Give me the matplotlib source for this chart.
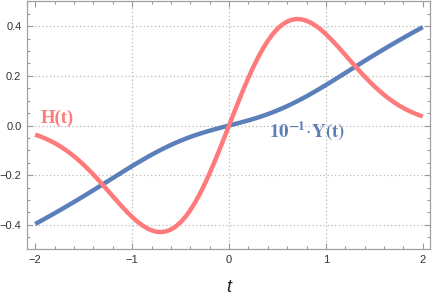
import matplotlib
matplotlib.use("Agg")
import matplotlib.pyplot as plt
from matplotlib.ticker import MultipleLocator, FixedLocator

plt.rcParams["mathtext.fontset"] = "stix"

t_pos = [0.0, 0.05, 0.1, 0.15, 0.2, 0.25, 0.3, 0.35, 0.4, 0.45, 0.5, 0.55, 0.6,
         0.65, 0.7, 0.75, 0.8, 0.85, 0.9, 0.95, 1.0, 1.05, 1.1, 1.15, 1.2, 1.25,
         1.3, 1.35, 1.4, 1.45, 1.5, 1.55, 1.6, 1.65, 1.7, 1.75, 1.8, 1.85, 1.9,
         1.95, 2.0]
h_pos = [0.0, 0.0499, 0.0990, 0.1467, 0.1922, 0.2349, 0.2742, 0.3096, 0.3409,
         0.3675, 0.3894, 0.4064, 0.4186, 0.4260, 0.4288, 0.4273, 0.4218, 0.4127,
         0.4004, 0.3853, 0.3679, 0.3487, 0.3280, 0.3064, 0.2843, 0.2620, 0.2399,
         0.2182, 0.1972, 0.1771, 0.1581, 0.1403, 0.1237, 0.1084, 0.0945, 0.0818,
         0.0705, 0.0604, 0.0514, 0.0435, 0.0366]
y_pos = [0.0, 0.0050, 0.0101, 0.0153, 0.0208, 0.0265, 0.0326, 0.0390, 0.0459,
         0.0532, 0.0611, 0.0694, 0.0781, 0.0874, 0.0971, 0.1073, 0.1178, 0.1287,
         0.1400, 0.1515, 0.1632, 0.1751, 0.1872, 0.1994, 0.2116, 0.2238, 0.2360,
         0.2482, 0.2603, 0.2723, 0.2842, 0.2960, 0.3076, 0.3192, 0.3305, 0.3418,
         0.3529, 0.3640, 0.3749, 0.3856, 0.3963]
t_vals = [-v for v in t_pos[::-1]] + t_pos[1:]
H_vals = [-v for v in h_pos[::-1]] + h_pos[1:]
Y_vals = [-v for v in y_pos[::-1]] + y_pos[1:]

x_ticks = [-2, -1, 0, 1, 2]
y_ticks = [-0.4, -0.2, 0.0, 0.2, 0.4]
y_tick_labels = ["\u22120.4", "\u22120.2", "0.0", "0.2", "0.4"]
x_tick_labels = ["\u22122", "\u22121", "0", "1", "2"]

red = "#FF7A7A"
blue = "#5B7FB8"

fig = plt.figure(figsize=(4.32, 2.94), dpi=100)
ax = fig.add_axes([0.0625, 0.153, 0.933, 0.845])

ax.plot(t_vals, Y_vals, color=blue, lw=3.2, solid_capstyle="butt", zorder=3)
ax.plot(t_vals, H_vals, color=red, lw=3.2, solid_capstyle="butt", zorder=4)

ax.set_xlim(-2.085, 2.075)
ax.set_ylim(-0.497, 0.503)

ax.xaxis.set_major_locator(FixedLocator(x_ticks))
ax.set_xticklabels(x_tick_labels)
ax.yaxis.set_major_locator(FixedLocator(y_ticks))
ax.set_yticklabels(y_tick_labels)
ax.xaxis.set_minor_locator(MultipleLocator(0.2))
ax.yaxis.set_minor_locator(MultipleLocator(0.05))

for gx in [-1, 0, 1]:
    ax.axvline(gx, color="#b8b8b8", lw=0.9, ls=(0, (1, 2)), zorder=1)
for gy in y_ticks:
    ax.axhline(gy, color="#b8b8b8", lw=0.9, ls=(0, (1, 2)), zorder=1)

ax.tick_params(which="both", direction="in", top=True, right=True, color="#999999", width=0.8)
ax.tick_params(which="major", length=4.5, labelsize=8, labelcolor="#333333", pad=4)
ax.tick_params(which="minor", length=2.5)
for lab in ax.get_xticklabels() + ax.get_yticklabels():
    lab.set_family(["Liberation Sans", "DejaVu Sans"])
for s in ax.spines.values():
    s.set_color("#a0a0a0")
    s.set_linewidth(0.9)

fig.text(229 / 432, 1 - 287 / 294, "t", ha="center", va="center", fontsize=13,
         style="italic", family=["Liberation Sans", "DejaVu Sans"], color="#222222")

ax.text(-1.77, 0.027, "H(t)", color=red, fontsize=13.5, fontweight="bold",
        family=["Liberation Serif", "DejaVu Serif"], ha="center", va="center")
ax.text(0.8, -0.022, r"$\mathbf{10}^{\mathbf{-1}}\!\cdot\!\mathbf{Y(t)}$", color=blue,
        fontsize=13.5, ha="center", va="center")

fig.savefig("out.png", dpi=100)
